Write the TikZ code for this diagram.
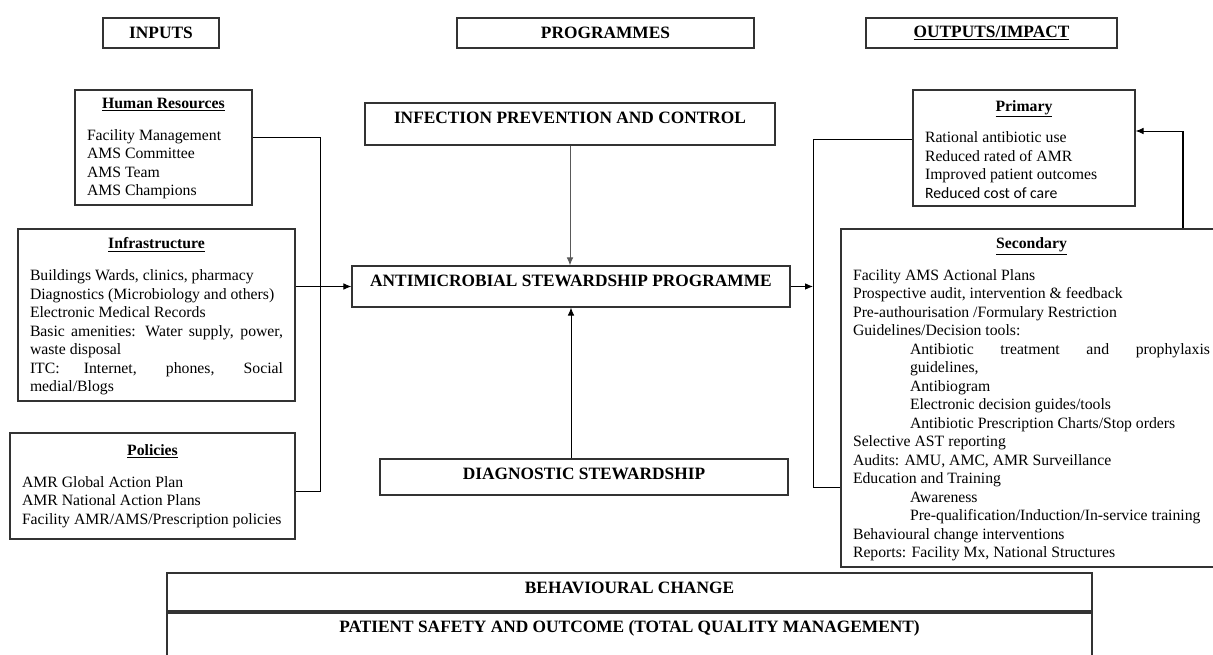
\documentclass[tikz,border=0pt]{standalone}
\usepackage{fontspec}
\setmainfont{Liberation Serif}
\newfontfamily\calibrifont{Carlito}
\usetikzlibrary{arrows.meta}

\tikzset{every picture/.style={line width=0.75pt}}
\tikzset{
  boxnode/.style={draw=black!80, line width=0.9pt, inner sep=0pt, align=left},
  capsnode/.style={draw=black!80, line width=0.9pt, inner sep=0pt, font=\fontsize{13}{15}\selectfont\bfseries},
  link/.style={draw=black, line width=0.7pt},
  arrowlink/.style={link, -{Latex[length=6pt,width=5pt]}}
}
\newcommand{\bodyfont}{\fontsize{11.8}{13.85}\selectfont}
\newcommand{\boxhead}[1]{\centering\textbf{\underline{#1}}\par\vspace{10pt}\raggedright}
\newcommand{\ind}{\hspace*{42.75pt}}

\begin{document}
\begin{tikzpicture}[x=0.75pt,y=0.75pt,yscale=-1,xscale=1]
\useasboundingbox (0,0) rectangle (1213,655);

% Column headers
\node[capsnode, minimum width=87pt, minimum height=22.5pt] (inputs) at (161,33) {INPUTS};
\node[capsnode, minimum width=222.75pt, minimum height=22.5pt] (progs) at (605.5,33) {PROGRAMMES};
\node[capsnode, minimum width=188.25pt, minimum height=22.5pt] (outputs) at (991.5,33) {\underline{OUTPUTS/IMPACT}};

% Text Node
\node[boxnode, minimum width=132.75pt, minimum height=86.25pt] (hr) at (163.5,147.5) {\begin{minipage}{114.75pt}\bodyfont\vspace{2pt}\boxhead{Human Resources}
Facility Management\\
AMS Committee\\
AMS Team\\
AMS Champions
\end{minipage}};
% Text Node
\node[boxnode, minimum width=207.75pt, minimum height=129pt] (infra) at (156.5,315) {\begin{minipage}{189.75pt}\bodyfont\vspace{2pt}\boxhead{Infrastructure}
Buildings Wards, clinics, pharmacy\\
Diagnostics (Microbiology and others)\\
Electronic Medical Records\\
\makebox[\linewidth][s]{Basic amenities: Water supply, power,}\\
waste disposal\\
\makebox[\linewidth][s]{ITC: Internet, phones, Social}\\
medial/Blogs
\end{minipage}};
% Text Node
\node[boxnode, minimum width=213.75pt, minimum height=79.5pt] (pol) at (152.5,486) {\begin{minipage}{195.75pt}\bodyfont\boxhead{Policies}
AMR Global Action Plan\\
AMR National Action Plans\\
Facility AMR/AMS/Prescription policies
\end{minipage}};

% Programme boxes
\node[capsnode, minimum width=307.5pt, minimum height=31.5pt, text depth=9pt] (ipc) at (570,124) {INFECTION PREVENTION AND CONTROL};
\node[capsnode, minimum width=328.5pt, minimum height=30.75pt, text depth=8.25pt] (asp) at (571,286.5) {ANTIMICROBIAL STEWARDSHIP PROGRAMME};
\node[capsnode, minimum width=306pt, minimum height=27pt, text depth=4.5pt] (ds) at (584,477) {DIAGNOSTIC STEWARDSHIP};

% Text Node
\node[boxnode, minimum width=166.5pt, minimum height=87pt] (prim) at (1024,148) {\begin{minipage}{148.5pt}\bodyfont\vspace{2pt}\boxhead{Primary}
Rational antibiotic use\\
Reduced rated of AMR\\
Improved patient outcomes\\
{\calibrifont Reduced cost of care}
\end{minipage}};
% Text Node
\node[boxnode, minimum width=285.75pt, minimum height=253.5pt] (sec) at (1031.5,398) {\begin{minipage}{267.75pt}\bodyfont\vspace{2pt}\boxhead{Secondary}
Facility AMS Actional Plans\\
Prospective audit, intervention \& feedback\\
Pre-authourisation /Formulary Restriction\\
Guidelines/Decision tools:\\
\ind\makebox[225pt][s]{Antibiotic treatment and prophylaxis}\\
\ind guidelines,\\
\ind Antibiogram\\
\ind Electronic decision guides/tools\\
\ind Antibiotic Prescription Charts/Stop orders\\
Selective AST reporting\\
Audits: AMU, AMC, AMR Surveillance\\
Education and Training\\
\ind Awareness\\
\ind Pre-qualification/Induction/In-service training\\
Behavioural change interventions\\
Reports: Facility Mx, National Structures
\end{minipage}};

% Bottom bands
\node[capsnode, minimum width=693.75pt, minimum height=28.5pt, text depth=6pt] (behav) at (629.5,592) {BEHAVIOURAL CHANGE};
\node[capsnode, minimum width=693.75pt, minimum height=42.75pt, text depth=23pt] (safety) at (629.5,641.5) {PATIENT SAFETY AND OUTCOME (TOTAL QUALITY MANAGEMENT)};

% Joints
\coordinate (inTop) at (320,137);
\coordinate (inBot) at (320,491);
\coordinate (outTop) at (813,139);
\coordinate (outBot) at (813,487);
\coordinate (fbk) at (1183,131);

% Connection
\draw[link] (hr.east |- inTop) -- (inTop) -- (inBot) -- (pol.east |- inBot);
% Connection
\draw[arrowlink] (infra.east |- asp.west) -- (asp.west);
% Connection
\draw[arrowlink, draw=black!65] (ipc.south) -- (ipc.south |- asp.north);
% Connection
\draw[arrowlink] (asp.south |- ds.north) -- (asp.south);
% Connection
\draw[arrowlink] (asp.east) -- (outTop |- asp.east);
% Connection
\draw[link] (prim.west |- outTop) -- (outTop) -- (outBot) -- (sec.west |- outBot);
% Connection
\draw[link, line width=1.6pt] (sec.north -| fbk) -- (fbk);
\draw[arrowlink] (fbk) -- (prim.east |- fbk);

\end{tikzpicture}
\end{document}
